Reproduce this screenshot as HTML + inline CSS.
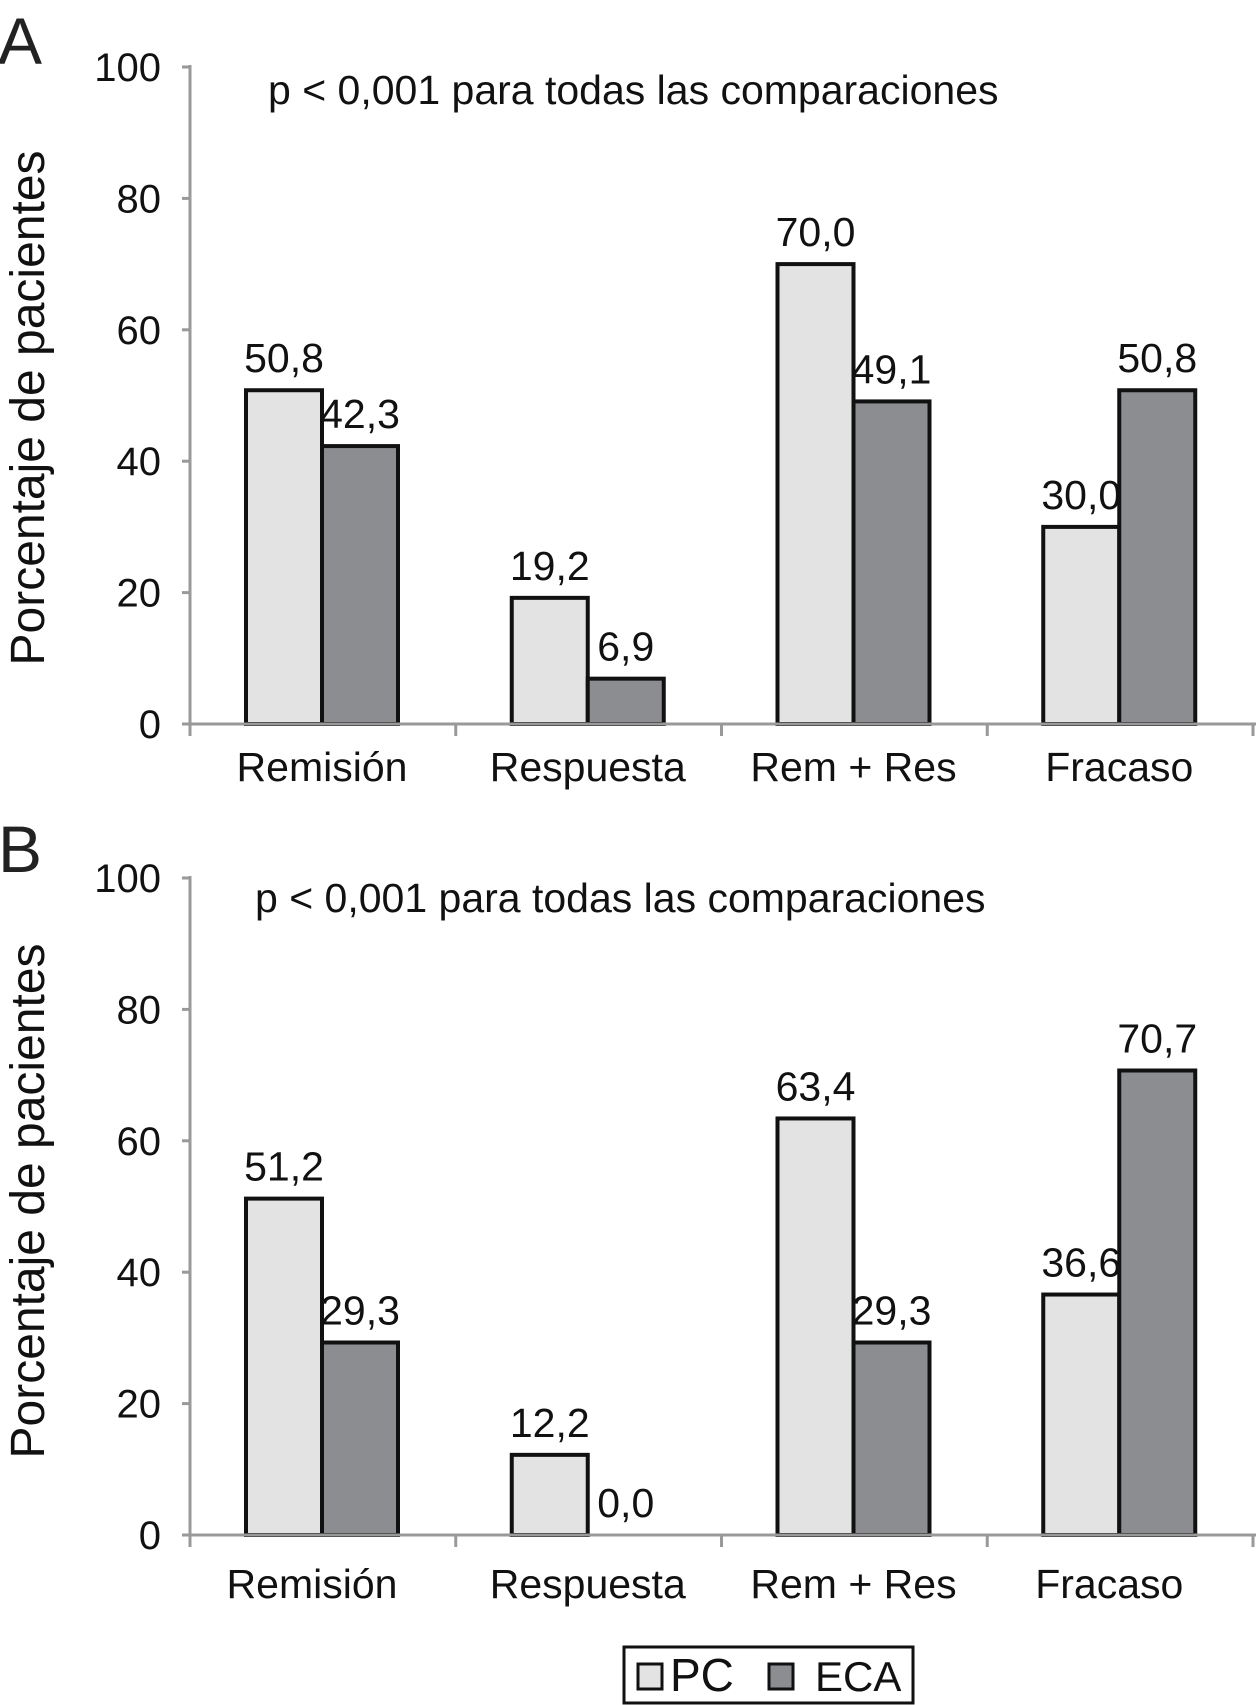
<!DOCTYPE html>
<html><head><meta charset="utf-8"><style>
html,body{margin:0;padding:0;background:#fff;}
svg{display:block;font-family:"Liberation Sans",Arial,sans-serif;}
</style></head><body>
<svg id="chart" width="1258" height="1705" viewBox="0 0 1258 1705">
<text x="-2" y="64" font-size="66" fill="#222">A</text>
<text x="-2" y="872" font-size="66" fill="#222">B</text>
<g id="legend">
<rect x="624" y="1647" width="289" height="56" fill="#fff" stroke="#111" stroke-width="3"/>
<rect x="638" y="1664" width="24" height="25" fill="#e3e3e3" stroke="#111" stroke-width="3"/>
<text x="670" y="1691" font-size="46" fill="#111">PC</text>
<rect x="769" y="1664" width="24" height="25" fill="#8c8d91" stroke="#111" stroke-width="3"/>
<text x="815" y="1691" font-size="42" fill="#111">ECA</text>
</g>
</svg>
<script>
const categories = ["Remisión","Respuesta","Rem + Res","Fracaso"];
const yTicks = [0,20,40,60,80,100];
const pcA = [50.8,19.2,70.0,30.0];
const ecaA = [42.3,6.9,49.1,50.8];
const pcB = [51.2,12.2,63.4,36.6];
const ecaB = [29.3,0.0,29.3,70.7];
const pText = "p < 0,001 para todas las comparaciones";

const NS="http://www.w3.org/2000/svg";
const svg=document.getElementById('chart');
function mk(tag,attrs,parent){const e=document.createElementNS(NS,tag);for(const k in attrs)e.setAttribute(k,attrs[k]);(parent||svg).appendChild(e);return e;}
function fmt(v){return v.toFixed(1).replace('.',',');}

function panel(id,y0,y100,pc,eca,pX,pY,labY,titleY){
  const g=mk('g',{});
  
  
  const x0=190, x1=1256, gw=(1253-190)/4, bw=76, off=56;
  const ys=v=>y0+(y100-y0)*v/100;
  const xs=i=>x0+gw*i;
  pc.forEach((v,i)=>{
    const bx=xs(i)+off;
    const r=mk('rect',{x:bx,y:ys(v),width:bw,height:y0-ys(v),fill:'#e3e3e3',stroke:'#111','stroke-width':4},g);
    
    
    const t=mk('text',{x:bx+bw/2,y:ys(v)-18,'font-size':41,'text-anchor':'middle',fill:'#111'},g);
    t.textContent=fmt(v);
    
    
  });
  eca.forEach((v,i)=>{
    const bx=xs(i)+off+bw;
    if(v>0){
      const r=mk('rect',{x:bx,y:ys(v),width:bw,height:y0-ys(v),fill:'#8c8d91',stroke:'#111','stroke-width':4},g);
      
      
    }
    const t=mk('text',{x:bx+bw/2,y:ys(v)-18,'font-size':41,'text-anchor':'middle',fill:'#111'},g);
    t.textContent=fmt(v);
    
    
  });
  const ya=mk('line',{x1:x0,y1:y100-2,x2:x0,y2:y0,stroke:'#999','stroke-width':3},g);
  
  
  const xa=mk('line',{x1:x0,y1:y0,x2:x1,y2:y0,stroke:'#999','stroke-width':3},g);
  
  
  yTicks.forEach(v=>{
    mk('line',{x1:x0-8,y1:ys(v),x2:x0,y2:ys(v),stroke:'#999','stroke-width':3},g);
    const t=mk('text',{x:161,y:ys(v)+14,'font-size':40,'text-anchor':'end',fill:'#111'},g);
    t.textContent=v;
    
    
  });
  for(let i=0;i<=4;i++){
    mk('line',{x1:xs(i),y1:y0,x2:xs(i),y2:y0+12,stroke:'#999','stroke-width':3},g);
  }
  categories.forEach((c,i)=>{
    const t=mk('text',{x:xs(i)+off+bw-(id==='b'&&i!==1&&i!==2?10:0),y:labY+2,'font-size':41,'text-anchor':'middle',fill:'#111'},g);
    t.textContent=c;
    
    
  });
  const p=mk('text',{x:pX,y:pY,'font-size':41,fill:'#111'},g);
  p.textContent=pText;
  
  
  const yt=mk('text',{x:0,y:0,'font-size':48,'text-anchor':'middle',fill:'#111',transform:'translate(44,'+titleY+') rotate(-90)'},g);
  yt.textContent='Porcentaje de pacientes';
  
  
}
panel('a',724,67,pcA,ecaA,268,104,779,408);
panel('b',1535,878,pcB,ecaB,255,912,1596,1201);
</script>
</body></html>
